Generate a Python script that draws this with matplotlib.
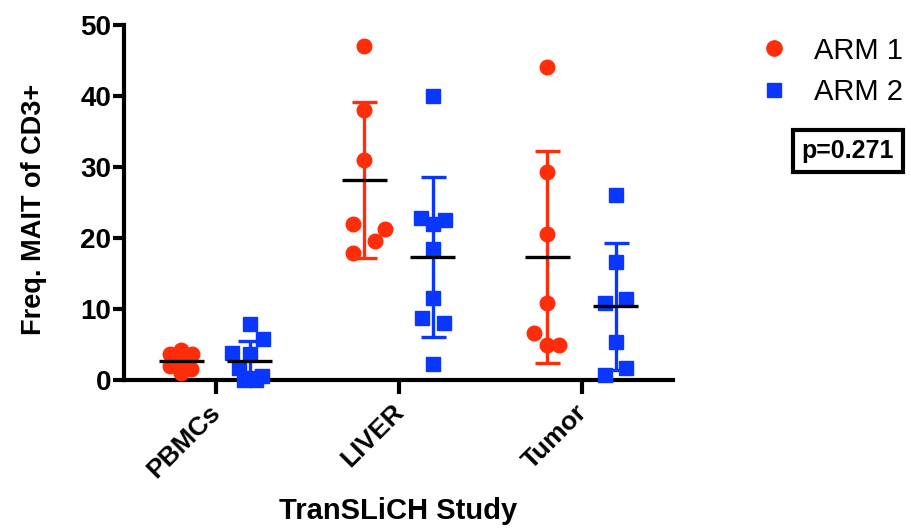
import numpy as np
import matplotlib
matplotlib.use("Agg")
import matplotlib.pyplot as plt
import matplotlib.transforms as mtransforms
from matplotlib.lines import Line2D

plt.rcParams['font.family'] = ['Liberation Sans', 'DejaVu Sans']

# tissue groups and the two arms
groups = ['PBMCs', 'LIVER', 'Tumor']
arm_names = ['ARM 1', 'ARM 2']

# Freq. MAIT of CD3+ per patient
arm1_pbmc = [4.2, 3.6, 3.7, 2.0, 1.0, 1.6, 2.3]
arm1_liver = [47.0, 38.0, 31.0, 22.0, 21.3, 19.6, 17.9]
arm1_tumor = [44.1, 29.3, 20.6, 10.9, 6.6, 4.9, 4.9]

arm2_pbmc = [7.9, 5.8, 3.8, 3.7, 1.7, 0.6, 0.0, 0.0, 0.3]
arm2_liver = [40.0, 22.8, 22.5, 22.0, 18.5, 11.5, 8.7, 8.0, 2.3]
arm2_tumor = [26.0, 16.6, 10.8, 11.4, 5.3, 1.7, 0.7]

# horizontal scatter of points inside a column (pixels)
arm1_jit = [[0, -11, 11, -11, 0, 10, 0],
            [0, 0, 0, -11, 21, 11, -11],
            [0, 0, 0, 0, -13, 0, 12]]
arm2_jit = [[0, 13, -18, 0, -11, 12, -6, 6, 0],
            [0, -12, 12, 0, 0, 0, -11, 11, 0],
            [0, 0, -11, 10, 0, 10, -11]]

p_text = 'p=0.271'

red = '#FF2D0A'
blue = '#0A37FF'

fig = plt.figure(figsize=(9.11, 5.29), dpi=100)
ax = fig.add_axes([124/911, 1-380/529, (673-124)/911, (380-25)/529])

px = 1/182.0   # one pixel in data units along x
arms = [
    ([arm1_pbmc, arm1_liver, arm1_tumor], arm1_jit, -0.187, red, 'o', 10.5),
    ([arm2_pbmc, arm2_liver, arm2_tumor], arm2_jit, 0.187, blue, 's', 10.5),
]

for data, jit, off, col, mk, ms in arms:
    for i, vals in enumerate(data):
        vals = np.array(vals)
        xc = i + 1 + off
        xs = xc + np.array(jit[i]) * px
        ax.plot(xs, vals, ls='none', marker=mk, ms=ms, color=col,
                mec=col, zorder=3, clip_on=False)
        m = vals.mean()
        sd = vals.std(ddof=1)
        ax.errorbar(xc, m, yerr=sd, color=col, lw=2.4, capsize=9,
                    capthick=2.4, zorder=4, clip_on=False)
        ax.plot([xc-0.124, xc+0.124], [m, m], color='black', lw=2.4,
                zorder=5, solid_capstyle='butt')

ax.set_xlim(0.5, 3.5)
ax.set_ylim(0, 50)
ax.set_yticks([0, 10, 20, 30, 40, 50])
ax.set_xticks([1, 2, 3])
ax.set_xticklabels([])
for lab in ax.get_yticklabels():
    lab.set_fontsize(20)
    lab.set_fontweight('bold')

# rotated category names under the ticks
lab_tr = mtransforms.blended_transform_factory(ax.transData, ax.transAxes) + \
    mtransforms.ScaledTranslation(-7/100, -20/100, fig.dpi_scale_trans)
for i, g in enumerate(groups):
    ax.text(i + 1, 0, g, transform=lab_tr, rotation=45, ha='right', va='top',
            rotation_mode='anchor', fontsize=19, fontweight='bold')

for s in ['top', 'right']:
    ax.spines[s].set_visible(False)
for s in ['left', 'bottom']:
    ax.spines[s].set_linewidth(3)
ax.tick_params(axis='both', width=3, length=8, direction='out')
ax.tick_params(axis='x', length=10)
ax.tick_params(axis='y', pad=1)

ax.set_ylabel('Freq. MAIT of CD3+', fontsize=19.5, fontweight='bold')
ax.yaxis.set_label_coords(-0.14, 0.48)
ax.set_xlabel('TranSLiCH Study', fontsize=21, fontweight='bold')
ax.xaxis.set_label_coords(0.5, -0.33)

handles = [
    Line2D([], [], ls='none', marker='o', ms=11, color=red, label=arm_names[0]),
    Line2D([], [], ls='none', marker='s', ms=10.5, color=blue, label=arm_names[1]),
]
fig.legend(handles=handles, loc='upper left', bbox_to_anchor=(745/911, 1-25/529),
           frameon=False, fontsize=21, handlelength=1.2, handletextpad=0.75,
           labelspacing=0.45, borderaxespad=0)

fig.text(848/911, 1-151/529, p_text, ha='center', va='center',
         fontsize=18, fontweight='bold',
         bbox=dict(boxstyle='square,pad=0.35', fc='white', ec='black', lw=3))

fig.savefig('out.png', dpi=100)
